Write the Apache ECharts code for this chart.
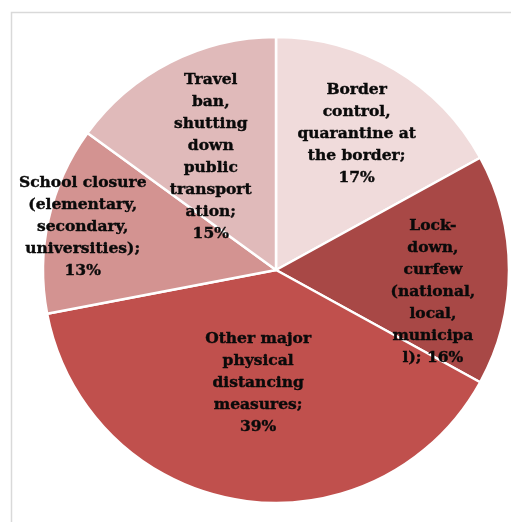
<!DOCTYPE html>
<html>
<head>
<meta charset="utf-8">
<script src="https://cdn.jsdelivr.net/npm/echarts@6/dist/echarts.min.js"></script>
<style>
html,body{margin:0;padding:0;background:#fff;}
#chart{width:511px;height:522px;}
</style>
</head>
<body>
<div id="chart"></div>
<script>
// Data (clockwise from 12 o'clock)
const categories = [
  "Border control, quarantine at the border",
  "Lock-down, curfew (national, local, municipal)",
  "Other major physical distancing measures",
  "School closure (elementary, secondary, universities)",
  "Travel ban, shutting down public transportation"
];
// label text with the reference's line breaks; {v} = value
const labelTexts = [
  "Border\ncontrol,\nquarantine at\nthe border;\n{v}%",
  "Lock-\ndown,\ncurfew\n(national,\nlocal,\nmunicipa\nl); {v}%",
  "Other major\nphysical\ndistancing\nmeasures;\n{v}%",
  "School closure\n(elementary,\nsecondary,\nuniversities);\n{v}%",
  "Travel\nban,\nshutting\ndown\npublic\ntransport\nation;\n{v}%"
];
const values = [17, 16, 39, 13, 15];

// Styling
const colors = ["#f0dbdb", "#a84846", "#c0504d", "#d39391", "#e0baba"];
const labelRadiusFrac = [0.68, 0.68, 0.49, 0.85, 0.56];
const labelAngleNudge = [0, 8, 0, 0, -3];

const CX = 276, CY = 270, R = 233;
const total = values.reduce((a, b) => a + b, 0);
const mids = [];
let cum = 0;
values.forEach(v => { mids.push((cum + v / 2) / total * 360); cum += v; });

const chart = echarts.init(document.getElementById('chart'), null, {renderer: 'canvas'});
chart.setOption({
  animation: false,
  backgroundColor: '#ffffff',
  graphic: [{
    type: 'rect',
    shape: {x: 11.5, y: 12.5, width: 600, height: 600},
    style: {fill: 'none', stroke: '#d9d9d9', lineWidth: 1.5},
    silent: true
  }],
  series: [{
    type: 'pie',
    center: [CX, CY],
    radius: [0, R],
    startAngle: 90,
    clockwise: true,
    avoidLabelOverlap: false,
    itemStyle: {borderColor: '#ffffff', borderWidth: 2.5},
    label: {
      show: true,
      position: 'inside',
      color: '#0a0a0a',
      fontFamily: 'DejaVu Serif',
      fontWeight: 'bold',
      fontSize: 15.5,
      lineHeight: 22,
      align: 'center',
      textBorderColor: '#0a0a0a',
      textBorderWidth: 0.4,
      formatter: p => labelTexts[p.dataIndex].replace('{v}', p.value)
    },
    labelLine: {show: false},
    labelLayout: function (params) {
      const i = params.dataIndex;
      const a = (mids[i] + labelAngleNudge[i]) * Math.PI / 180;
      const f = labelRadiusFrac[i] * R;
      return {
        x: CX + f * Math.sin(a),
        y: CY - f * Math.cos(a),
        align: 'center',
        verticalAlign: 'middle'
      };
    },
    data: categories.map((c, i) => ({name: c, value: values[i], itemStyle: {color: colors[i]}}))
  }]
});
</script>
</body>
</html>
